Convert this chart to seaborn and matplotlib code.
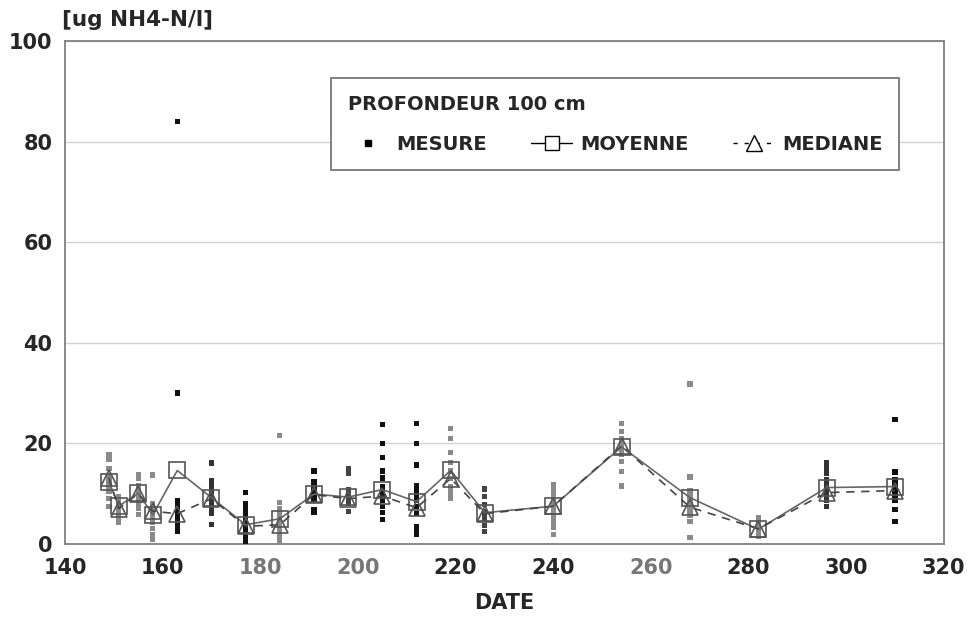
import matplotlib
matplotlib.use("Agg")
import matplotlib.pyplot as plt
import seaborn as sns
import pandas as pd
from matplotlib.lines import Line2D

# ---------------- data ----------------
dates = [149, 151, 155, 158, 163, 170, 177, 184, 191, 198,
         205, 212, 219, 226, 240, 254, 268, 282, 296, 310]

moyenne = [12.4, 7.5, 10.1, 5.8, 14.6, 9.2, 3.8, 5.0, 9.9, 9.3,
           10.8, 8.4, 14.6, 6.2, 7.5, 19.3, 9.2, 2.9, 11.2, 11.4]

mediane = [13.2, 7.0, 10.0, 6.5, 6.0, 9.0, 3.5, 3.8, 9.8, 9.0,
           9.5, 7.2, 13.0, 6.0, 7.5, 19.5, 7.3, 3.0, 10.2, 10.6]

mesures = [
    [17.8, 16.8, 15.0, 13.5, 12.5, 11.5, 10.5, 9.0, 7.5],
    [9.5, 8.8, 8.0, 7.2, 6.5, 5.8, 5.0, 4.3],
    [13.7, 13.0, 11.5, 10.5, 10.0, 9.0, 8.0, 7.0, 5.8],
    [13.7, 8.0, 6.8, 6.0, 5.0, 4.2, 3.0, 1.8, 0.8],
    [84.0, 30.0, 8.7, 8.0, 7.2, 6.5, 6.0, 5.2, 4.5, 3.8, 3.0, 2.4],
    [16.1, 12.5, 11.5, 10.8, 10.0, 9.5, 9.0, 8.3, 7.5, 6.8, 6.0, 3.8],
    [10.2, 8.1, 7.3, 6.4, 5.5, 4.5, 3.8, 3.0, 2.2, 1.4, 0.8, 0.2],
    [21.5, 8.2, 7.0, 6.0, 5.0, 4.2, 3.5, 2.8, 2.0, 1.0, 0.2],
    [14.5, 12.3, 11.5, 10.8, 10.0, 9.4, 8.7, 6.8, 6.2],
    [14.9, 14.1, 10.7, 10.0, 9.5, 9.0, 8.6, 8.1, 6.4],
    [23.7, 19.9, 17.2, 14.5, 13.1, 11.3, 10.2, 9.5, 8.6, 7.5, 6.3, 4.8],
    [23.9, 19.9, 15.7, 11.5, 10.5, 9.6, 8.7, 7.5, 6.0, 3.4, 2.6, 1.8],
    [23.0, 20.9, 18.1, 16.2, 14.5, 13.0, 11.3, 10.5, 9.8, 9.1],
    [10.9, 9.5, 7.8, 6.5, 6.0, 5.2, 4.8, 3.6, 2.4],
    [11.7, 10.8, 9.8, 8.8, 7.8, 7.0, 6.2, 5.2, 4.2, 3.2, 1.8],
    [23.9, 22.3, 21.0, 20.2, 19.4, 18.5, 17.8, 16.4, 14.4, 11.5],
    [31.8, 13.3, 10.5, 9.8, 9.0, 8.2, 7.4, 6.5, 5.6, 4.5, 1.2],
    [5.2, 4.5, 3.8, 3.0, 2.5, 2.0, 1.5],
    [16.2, 15.5, 14.8, 14.1, 12.7, 11.8, 11.0, 10.2, 9.5, 8.7, 7.4],
    [24.8, 14.3, 12.7, 12.0, 11.4, 10.8, 10.3, 9.8, 9.2, 8.7, 6.8, 4.4],
]

x_ticks = [140, 160, 180, 200, 220, 240, 260, 280, 300, 320]
y_ticks = [0, 20, 40, 60, 80, 100]

# scan-like ink tone of the measurement dots per sampling date
dot_tone = ["#8a8a8a", "#8a8a8a", "#8a8a8a", "#8a8a8a", "#111111",
            "#333333", "#111111", "#8a8a8a", "#111111", "#444444",
            "#111111", "#111111", "#8a8a8a", "#444444", "#8a8a8a",
            "#8a8a8a", "#8a8a8a", "#8a8a8a", "#333333", "#111111"]

# ---------------- figure ----------------
sns.set_theme(style="white")
plt.rcParams["font.family"] = ["DejaVu Sans"]

fig = plt.figure(figsize=(9.70, 6.23), dpi=100)
ax = fig.add_axes([0.067, 0.127, 0.906, 0.807])

pts = pd.DataFrame(
    [(d, v) for d, vals in zip(dates, mesures) for v in vals],
    columns=["date", "val"],
)
palette = dict(zip(dates, dot_tone))
sns.scatterplot(data=pts, x="date", y="val", hue="date", palette=palette,
                marker="s", s=14, linewidth=0, legend=False, ax=ax, zorder=3)

sns.lineplot(x=dates, y=moyenne, ax=ax, color="#666666", linewidth=1.2,
             marker="s", markersize=11, markerfacecolor="none",
             markeredgecolor="#555555", markeredgewidth=1.2, zorder=4)
sns.lineplot(x=dates, y=mediane, ax=ax, color="#444444", linewidth=1.2,
             linestyle=(0, (5, 4)), marker="^", markersize=12,
             markerfacecolor="none", markeredgecolor="#555555",
             markeredgewidth=1.2, zorder=4)

ax.set_xlim(140, 320)
ax.set_ylim(0, 100)
ax.set_xticks(x_ticks)
ax.set_yticks(y_ticks)
ax.set_xticklabels([str(t) for t in x_ticks])
ax.set_yticklabels([str(t) for t in y_ticks])
ax.set_xlabel("DATE", fontsize=15, fontweight="bold", labelpad=11)
ax.set_ylabel("")

ax.grid(axis="y", color="#d2d2d2", linewidth=1.0)
ax.grid(axis="x", visible=False)
ax.set_axisbelow(True)
for sp in ax.spines.values():
    sp.set_color("#808080")
    sp.set_linewidth(1.3)

ax.tick_params(axis="x", direction="in", length=9, width=1.0, color="#909090",
               pad=10, labelsize=15)
ax.tick_params(axis="y", length=0, pad=9, labelsize=15)
for lab in ax.get_xticklabels() + ax.get_yticklabels():
    lab.set_fontweight("bold")
for lab in ax.get_xticklabels():
    if lab.get_text() in ("180", "200", "260"):
        lab.set_color("#777777")

fig.text(62 / 970, 1 - 20 / 623, "[ug NH4-N/l]", fontsize=15.5,
         fontweight="bold", va="center", ha="left")

handles = [
    Line2D([], [], linestyle="none", marker="s", markersize=4, color="black"),
    Line2D([], [], color="black", linewidth=1.0, marker="s", markersize=10,
           markerfacecolor="white", markeredgecolor="black"),
    Line2D([], [], color="black", linewidth=1.0, linestyle=(0, (3, 5)),
           marker="^", markersize=11, markerfacecolor="white",
           markeredgecolor="black"),
]
leg = ax.legend(handles, ["MESURE", "MOYENNE", "MEDIANE"], ncol=3,
                title="PROFONDEUR 100 cm", alignment="left",
                loc="upper left", bbox_to_anchor=(331 / 970, 1 - 78 / 623),
                bbox_transform=fig.transFigure, borderaxespad=0.0,
                prop={"size": 14, "weight": "bold"},
                title_fontproperties={"size": 14, "weight": "bold"},
                handlelength=2.1, handletextpad=0.4, columnspacing=2.3,
                borderpad=0.85, labelspacing=1.1, frameon=True, fancybox=False,
                edgecolor="#777777", framealpha=1.0)
leg.get_frame().set_linewidth(1.3)

fig.savefig("out.png", dpi=100)
